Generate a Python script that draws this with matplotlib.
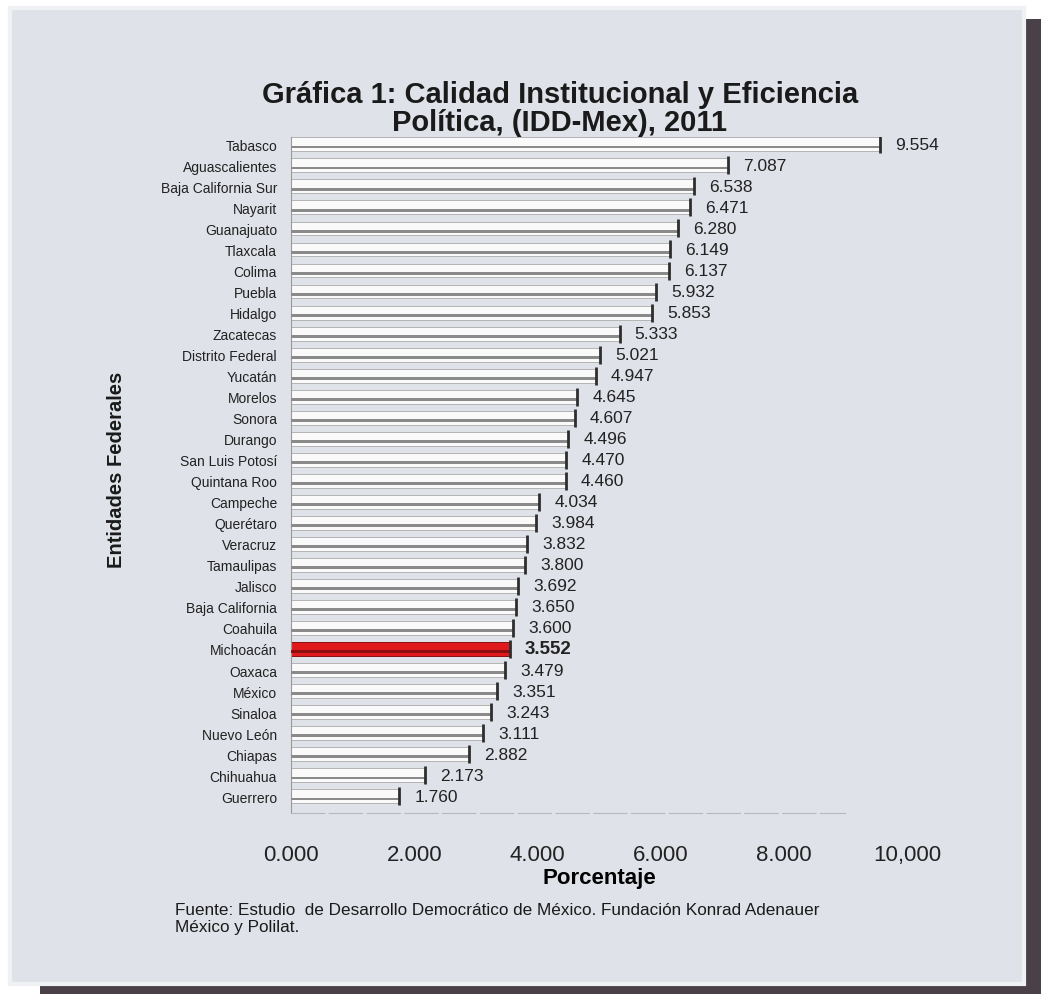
import matplotlib
matplotlib.use("Agg")
import matplotlib.pyplot as plt
from matplotlib.patches import Rectangle
import numpy as np

plt.rcParams["font.family"] = ["Liberation Sans", "DejaVu Sans"]

estados = [
    "Tabasco", "Aguascalientes", "Baja California Sur", "Nayarit", "Guanajuato",
    "Tlaxcala", "Colima", "Puebla", "Hidalgo", "Zacatecas", "Distrito Federal",
    "Yucatán", "Morelos", "Sonora", "Durango", "San Luis Potosí", "Quintana Roo",
    "Campeche", "Querétaro", "Veracruz", "Tamaulipas", "Jalisco", "Baja California",
    "Coahuila", "Michoacán", "Oaxaca", "México", "Sinaloa", "Nuevo León",
    "Chiapas", "Chihuahua", "Guerrero",
]
valores = [
    9.554, 7.087, 6.538, 6.471, 6.280, 6.149, 6.137, 5.932, 5.853, 5.333, 5.021,
    4.947, 4.645, 4.607, 4.496, 4.470, 4.460, 4.034, 3.984, 3.832, 3.800, 3.692,
    3.650, 3.600, 3.552, 3.479, 3.351, 3.243, 3.111, 2.882, 2.173, 1.760,
]
destacado = "Michoacán"
xticks = [0, 2, 4, 6, 8, 10]

W, H = 1041, 995
fig = plt.figure(figsize=(W / 100, H / 100), dpi=100, facecolor="white")

# panel background + shadow
fig.patches.append(Rectangle((1022 / W, 0), 19 / W, 1 - 20 / H, transform=fig.transFigure,
                             facecolor="#4a4048", edgecolor="none", zorder=-2))
fig.patches.append(Rectangle((40 / W, 0), 1, 12 / H, transform=fig.transFigure,
                             facecolor="#4a4048", edgecolor="none", zorder=-2))
fig.patches.append(Rectangle((10 / W, 10 / H), 1014 / W, 976 / H, transform=fig.transFigure,
                             facecolor="#dfe2e8", edgecolor="#f0f1f4", linewidth=3, zorder=-1))

ax = fig.add_axes([291 / W, 1 - 814 / H, (907 - 291) / W, (814 - 138) / H])
ax.set_facecolor("none")
ax.set_zorder(1)

y = np.arange(len(estados))
vals = np.array(valores)
es_dest = [e == destacado for e in estados]
colores = ["#e01a1c" if d else "#fafafa" for d in es_dest]
bordes = ["#8a1010" if d else "#b4b4b4" for d in es_dest]
banda = ["#8c0e0e" if d else "#8a8a8a" for d in es_dest]

ax.barh(y, vals, height=0.66, color=colores, edgecolor=bordes, linewidth=0.7, zorder=2)
ax.barh(y + 0.13, vals, height=0.13, color=banda, edgecolor="none", zorder=3)
ax.scatter(vals, y, marker="|", s=150, color="#2e2e2e", linewidths=2.0, zorder=4)

for yi, v, d in zip(y, vals, es_dest):
    ax.annotate(f"{v:.3f}", (v, yi), xytext=(11, 0), textcoords="offset points",
                va="center", ha="left", fontsize=13.5 if d else 12.5,
                fontweight="bold" if d else "normal", color="#222222")

ax.set_xlim(0, 10)
ax.set_ylim(len(estados) - 0.2, -0.35)
ax.set_yticks(y)
ax.set_yticklabels(estados, fontsize=10, color="#222222")
ax.set_xticks(xticks)
ax.set_xticklabels([f"{t:.3f}".replace(".", ",") if t == 10 else f"{t:.3f}" for t in xticks],
                   fontsize=16, color="#222222")
ax.tick_params(axis="both", length=0)
ax.tick_params(axis="x", pad=22)
ax.tick_params(axis="y", pad=10)

for s in ["top", "right"]:
    ax.spines[s].set_visible(False)
ax.spines["left"].set_color("#9a9a9a")
ax.spines["bottom"].set_color("#b8b8b8")
ax.spines["bottom"].set_linestyle((0, (30, 4)))
ax.spines["bottom"].set_bounds(0, 9.0)

ax.set_xlabel("Porcentaje", fontsize=16, fontweight="bold", labelpad=2)

fig.text(560 / W, 1 - 109 / H, "Gráfica 1: Calidad Institucional y Eficiencia\nPolítica, (IDD-Mex), 2011",
         ha="center", va="center", fontsize=21, fontweight="bold", color="#1a1a1a",
         linespacing=1.02)
fig.text(117 / W, 1 - 470 / H, "Entidades Federales", rotation=90, ha="center", va="center",
         fontsize=14.5, fontweight="bold", color="#1a1a1a")
fig.text(175 / W, 1 - 919 / H,
         "Fuente: Estudio  de Desarrollo Democrático de México. Fundación Konrad Adenauer\nMéxico y Polilat.",
         ha="left", va="center", fontsize=12.3, color="#1a1a1a", linespacing=1.2)

fig.savefig("out.png", dpi=100, facecolor="white")
